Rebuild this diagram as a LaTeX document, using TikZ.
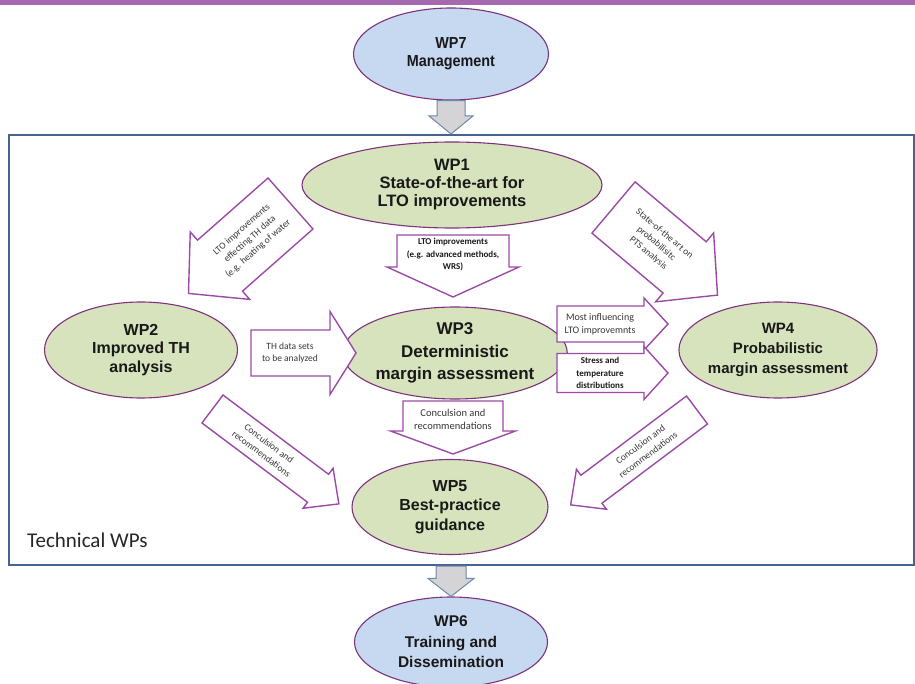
\documentclass[tikz,border=0pt]{standalone}
\usepackage{fontspec}
\setmainfont{Liberation Sans}
\newfontfamily\calib{Carlito}
\newfontfamily\narrowsans[FakeStretch=0.9]{Liberation Sans}
\usetikzlibrary{shapes.geometric,calc}

\definecolor{wpgreen}{RGB}{215,227,188}
\definecolor{wpblue}{RGB}{198,217,240}
\definecolor{wpedge}{RGB}{125,50,125}
\definecolor{arrowedge}{RGB}{155,75,165}
\definecolor{frameblue}{RGB}{70,100,145}
\definecolor{topbar}{RGB}{165,105,175}
\definecolor{grayfill}{RGB}{212,212,214}
\definecolor{grayedge}{RGB}{110,135,170}
\definecolor{txt}{RGB}{25,25,25}
\definecolor{lbltxt}{RGB}{55,55,55}

\tikzset{
  wp/.style={ellipse, draw=wpedge, line width=1.1pt, inner sep=0pt, align=center, text=txt},
  greenwp/.style={wp, fill=wpgreen},
  bluewp/.style={wp, fill=wpblue},
  barrow/.style={draw=arrowedge, fill=white, line width=1.4pt, line join=miter},
  % block arrow outline pointing along local +x: length, body width, head width, head length
  bpath/.style n args={4}{insert path={(0,{-(#2)/2}) -- ({(#1)-(#4)},{-(#2)/2}) -- ({(#1)-(#4)},{-(#3)/2}) -- (#1,0) -- ({(#1)-(#4)},{(#3)/2}) -- ({(#1)-(#4)},{(#2)/2}) -- (0,{(#2)/2}) -- cycle}},
  lbl/.style={font=\calib\fontsize{9.5}{12.5}\selectfont, text=lbltxt, align=center, inner sep=0pt},
  lblbold/.style={font=\calib\bfseries\fontsize{9}{12.5}\selectfont, text=txt, align=center, inner sep=0pt},
  grayarrow/.style={fill=grayfill, draw=grayedge, line width=1pt, line join=miter},
}

\begin{document}
\begin{tikzpicture}[x=1pt,y=-1pt]
\useasboundingbox (0,0) rectangle (915,684);

% header band
\fill[topbar] (0,0) rectangle (915,5);

% frame around the technical work packages
\node[draw=frameblue, line width=2pt, minimum width=905pt, minimum height=430pt, inner sep=0pt, anchor=north west] (tech) at (8,134) {};
\node[anchor=base west, font=\calib\fontsize{21}{24}\selectfont, text=black!85, inner sep=0pt] (techlbl) at (27,547) {Technical WPs};

% work packages
\node[bluewp, minimum width=195pt, minimum height=92pt, font=\narrowsans\bfseries\fontsize{16}{18}\selectfont] (wp7) at (451,54) {WP7\\Management};
\node[greenwp, minimum width=300pt, minimum height=86pt, font=\bfseries\fontsize{16.5}{18}\selectfont] (wp1) at (452,185) {WP1\\State-of-the-art for\\LTO improvements};
\node[greenwp, minimum width=193pt, minimum height=96pt, font=\bfseries\fontsize{16}{18.5}\selectfont] (wp2) at (141,350) {WP2\\Improved TH\\analysis};
\node[greenwp, minimum width=198pt, minimum height=92pt, font=\bfseries\fontsize{17}{22.5}\selectfont] (wp3) at (455,353) {WP3\\Deterministic\\margin assessment};
\node[greenwp, minimum width=193pt, minimum height=96pt, font=\bfseries\fontsize{15}{20}\selectfont] (wp4) at (778,350) {WP4\\Probabilistic\\margin assessment};
\node[greenwp, minimum width=196pt, minimum height=95pt, font=\bfseries\fontsize{16}{19.5}\selectfont] (wp5) at (450,507) {WP5\\Best-practice\\guidance};
\node[bluewp, minimum width=193pt, minimum height=90pt, font=\bfseries\fontsize{15.5}{20.5}\selectfont] (wp6) at (451,642) {WP6\\Training and\\Dissemination};

% management feeds the technical block, which feeds training
\draw[grayarrow] let \p1=(wp7.south), \p2=(tech.north) in
  (\x1-14pt,\y1) -- (\x1+14pt,\y1) -- (\x1+14pt,\y2+18pt) -- (\x1+22pt,\y2+18pt)
  -- (\x1,\y2) -- (\x1-22pt,\y2+18pt) -- (\x1-14pt,\y2+18pt) -- cycle;
\draw[grayarrow] let \p1=(tech.south -| wp6.north), \p2=(wp6.north) in
  (\x1-15pt,\y1) -- (\x1+15pt,\y1) -- (\x1+15pt,\y2+18pt) -- (\x1+23pt,\y2+18pt)
  -- (\x1,\y2) -- (\x1-23pt,\y2+18pt) -- (\x1-15pt,\y2+18pt) -- cycle;

% WP1 -> WP3
\begin{scope}[shift={(453,235)}, rotate=-90]
  \draw[barrow, bpath={62}{112}{132}{30}];
  \node[lblbold] (f13) at (20,0) {LTO improvements\\(e.g. advanced methods,\\WRS)};
\end{scope}

% WP1 -> WP2
\begin{scope}[shift={(290.5,203.5)}, rotate=221.4]
  \draw[barrow, bpath={136}{68}{90}{42}];
  \node[lbl, rotate=41.4] (f12) at (54,0) {LTO improvements\\effecting TH data\\(e.g. heating of water};
\end{scope}

% WP1 -> WP4
\begin{scope}[shift={(613.5,207.5)}, rotate=-40.1]
  \draw[barrow, bpath={136}{67}{90}{43}];
  \node[lbl, rotate=-40.1] (f14) at (56,0) {State-of-the art on\\probabilisitc\\PTS analysis};
\end{scope}

% WP2 -> WP3
\begin{scope}[shift={(251,353)}]
  \draw[barrow, bpath={105}{46}{83}{26}];
  \node[lbl] (f23) at (39,0) {TH data sets\\to be analyzed};
\end{scope}

% WP3 -> WP4
\begin{scope}[shift={(557,324)}]
  \draw[barrow, bpath={111}{36}{52}{24}];
  \node[lbl, font=\calib\fontsize{10}{13}\selectfont] (f34a) at (43,0) {Most influencing\\LTO improvemnts};
\end{scope}
\begin{scope}[shift={(557,373)}]
  \draw[barrow, bpath={111}{39}{53}{24}];
  \node[lblbold] (f34b) at (43,0) {Stress and\\temperature\\distributions};
\end{scope}

% WP3 -> WP5
\begin{scope}[shift={(453,401)}, rotate=-90]
  \draw[barrow, bpath={53}{100}{125}{23}];
  \node[lbl, font=\calib\fontsize{10.5}{13}\selectfont] (f35) at (18,0) {Conculsion and\\recommendations};
\end{scope}

% WP2 -> WP5
\begin{scope}[shift={(212.5,409)}, rotate=-36.9]
  \draw[barrow, bpath={158}{35}{50}{26}];
  \node[lbl, rotate=-36.9] (f25) at (66,0) {Conculsion and\\recommendations};
\end{scope}

% WP4 -> WP5
\begin{scope}[shift={(697,410)}, rotate=216.9]
  \draw[barrow, bpath={158}{35}{50}{26}];
  \node[lbl, rotate=36.9] (f45) at (66,0) {Conculsion and\\recommendations};
\end{scope}

\end{tikzpicture}
\end{document}
